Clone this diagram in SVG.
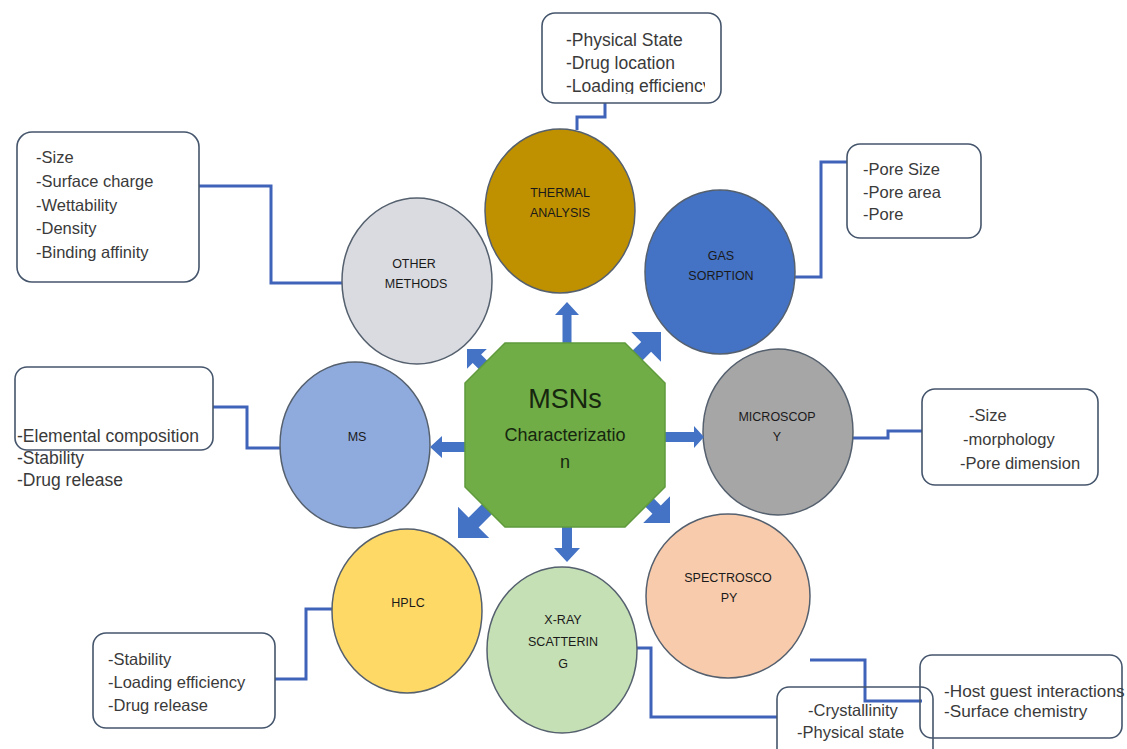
<svg xmlns="http://www.w3.org/2000/svg" width="1127" height="749" viewBox="0 0 1127 749">
<style>
  .bg{fill:#ffffff}
  .node{stroke:#55606e;stroke-width:1.5}
  .lbl{font-family:"Liberation Sans",Arial,sans-serif;font-size:12.5px;fill:#1a1a1a;text-anchor:middle}
  .box{fill:none;stroke:#45556c;stroke-width:1.6}
  .bt{font-family:"Liberation Sans",Arial,sans-serif;font-size:16.5px;fill:#3a3a3a}
  .bt.lg{font-size:17.5px}
  .bt.md{font-size:17.2px}
  .wire{fill:none;stroke:#3f63b8;stroke-width:3}
  .arr{fill:#4472c4;stroke:none}
  .oct{fill:#70ad47;stroke:#5f9a3c;stroke-width:1.5}
  .ot{font-family:"Liberation Sans",Arial,sans-serif;fill:#16260f;text-anchor:middle}
</style>
<defs>
  <clipPath id="clipT"><rect x="544" y="15" width="161" height="79"/></clipPath>
</defs>
<rect class="bg" x="0" y="0" width="1127" height="749"/>

<g id="connectors">
  <path class="wire" d="M199,186 H271 V283 H342"/>
  <path class="wire" d="M605,103 V117 H577 V130"/>
  <path class="wire" d="M847,162 H821 V277 H795"/>
  <path class="wire" d="M213,407 H247 V448 H280"/>
  <path class="wire" d="M853,438 H888 V431 H922"/>
  <path class="wire" d="M275,679 H306 V609 H333"/>
  <path class="wire" d="M637,648 H651 V717 H777"/>
  <path class="wire" d="M810,660 H865 V701 H922"/>
</g>

<g id="node-other">
  <ellipse class="node" cx="417" cy="281" rx="75" ry="83" fill="#d9dbe0"/>
  <text class="lbl" x="414" y="268">OTHER</text>
  <text class="lbl" x="416" y="288">METHODS</text>
</g>
<g id="node-thermal">
  <ellipse class="node" cx="560" cy="211" rx="75" ry="82" fill="#bf9000"/>
  <text class="lbl" x="560" y="197">THERMAL</text>
  <text class="lbl" x="560" y="217">ANALYSIS</text>
</g>
<g id="node-gas">
  <ellipse class="node" cx="720" cy="272" rx="75" ry="82" fill="#4472c4"/>
  <text class="lbl" x="721" y="260">GAS</text>
  <text class="lbl" x="721" y="280">SORPTION</text>
</g>
<g id="node-ms">
  <ellipse class="node" cx="355" cy="445" rx="75" ry="83" fill="#8faadc"/>
  <text class="lbl" x="357" y="441">MS</text>
</g>
<g id="node-microscopy">
  <ellipse class="node" cx="778" cy="432" rx="75" ry="83" fill="#a6a6a6"/>
  <text class="lbl" x="777" y="421">MICROSCOP</text>
  <text class="lbl" x="777" y="441">Y</text>
</g>
<g id="node-spectroscopy">
  <ellipse class="node" cx="728" cy="596" rx="82" ry="82" fill="#f8cbad"/>
  <text class="lbl" x="728" y="582">SPECTROSCO</text>
  <text class="lbl" x="729" y="602">PY</text>
</g>
<g id="node-hplc">
  <ellipse class="node" cx="407" cy="611" rx="75" ry="82" fill="#ffd966"/>
  <text class="lbl" x="408" y="607">HPLC</text>
</g>
<g id="node-xray">
  <ellipse class="node" cx="562" cy="650" rx="75" ry="83" fill="#c5e0b4"/>
  <text class="lbl" x="563" y="624">X-RAY</text>
  <text class="lbl" x="563" y="646">SCATTERIN</text>
  <text class="lbl" x="563" y="668">G</text>
</g>

<g id="arrows">
  <polygon class="arr" points="562.5,343 562.5,315 555,315 567,302 579,315 571.5,315 571.5,343"/>
  <polygon class="arr" points="562,527 562,548 554,548 567,562 580,548 572,548 572,527"/>
  <polygon class="arr" points="665,432 694,432 694,426 704,437 694,448 694,442 665,442"/>
  <polygon class="arr" points="467,442 442,442 442,436 430,447 442,458 442,452 467,452"/>
  <polygon class="arr" points="499.2,372.8 481.1,354.6 486.8,349 467,349 467,368.8 472.7,363.1 490.8,381.2"/>
  <polygon class="arr" points="639,364 651.1,351.8 661,361.7 661,332 631.3,332 641.2,341.9 629,354"/>
  <polygon class="arr" points="487.1,499.1 468.6,517.5 458,506.8 458,538 489.2,538 478.6,527.4 497,509"/>
  <polygon class="arr" points="635.8,497.2 652.4,513.8 643.2,523 670,523 670,496.2 660.8,505.4 644.2,488.8"/>
</g>

<g id="node-center">
  <polygon class="oct" points="505,343 625,343 665,383 665,487 625,527 505,527 465,487 465,383"/>
  <text class="ot" x="565" y="408" font-size="27">MSNs</text>
  <text class="ot" x="565" y="441" font-size="18">Characterizatio</text>
  <text class="ot" x="565" y="468" font-size="18">n</text>
</g>

<g id="box-other">
  <rect class="box" x="17" y="132" width="182" height="150" rx="15"/>
  <text class="bt" x="36" y="163">-Size</text>
  <text class="bt" x="36" y="187">-Surface charge</text>
  <text class="bt" x="36" y="211">-Wettability</text>
  <text class="bt" x="36" y="234">-Density</text>
  <text class="bt" x="36" y="258">-Binding affinity</text>
</g>
<g id="box-thermal">
  <rect class="box" x="542" y="13" width="179" height="90" rx="13"/>
  <g clip-path="url(#clipT)">
    <text class="bt lg" x="566" y="46">-Physical State</text>
    <text class="bt lg" x="566" y="69">-Drug location</text>
    <text class="bt lg" x="566" y="92">-Loading efficiency</text>
  </g>
</g>
<g id="box-gas">
  <rect class="box" x="847" y="144" width="134" height="94" rx="13"/>
  <text class="bt" x="863" y="175">-Pore Size</text>
  <text class="bt" x="863" y="198">-Pore area</text>
  <text class="bt" x="863" y="220">-Pore</text>
</g>
<g id="box-ms">
  <rect class="box" x="15" y="367" width="198" height="83" rx="12"/>
  <text class="bt lg" x="17" y="442">-Elemental composition</text>
  <text class="bt lg" x="17" y="464">-Stability</text>
  <text class="bt lg" x="17" y="486">-Drug release</text>
</g>
<g id="box-microscopy">
  <rect class="box" x="922" y="389" width="176" height="96" rx="13"/>
  <text class="bt" x="969" y="421">-Size</text>
  <text class="bt" x="963" y="445">-morphology</text>
  <text class="bt" x="960" y="469">-Pore dimension</text>
</g>
<g id="box-hplc">
  <rect class="box" x="93" y="633" width="182" height="95" rx="13"/>
  <text class="bt" x="108" y="665">-Stability</text>
  <text class="bt" x="108" y="688">-Loading efficiency</text>
  <text class="bt" x="108" y="711">-Drug release</text>
</g>
<g id="box-xray">
  <rect class="box" x="777" y="687" width="156" height="80" rx="12"/>
  <text class="bt" x="808" y="716">-Crystallinity</text>
  <text class="bt" x="797" y="738">-Physical state</text>
</g>
<g id="box-spectroscopy">
  <rect class="box" x="920" y="655" width="202" height="83" rx="12"/>
  <text class="bt md" x="944" y="697">-Host guest interactions</text>
  <text class="bt md" x="944" y="717">-Surface chemistry</text>
</g>
</svg>
